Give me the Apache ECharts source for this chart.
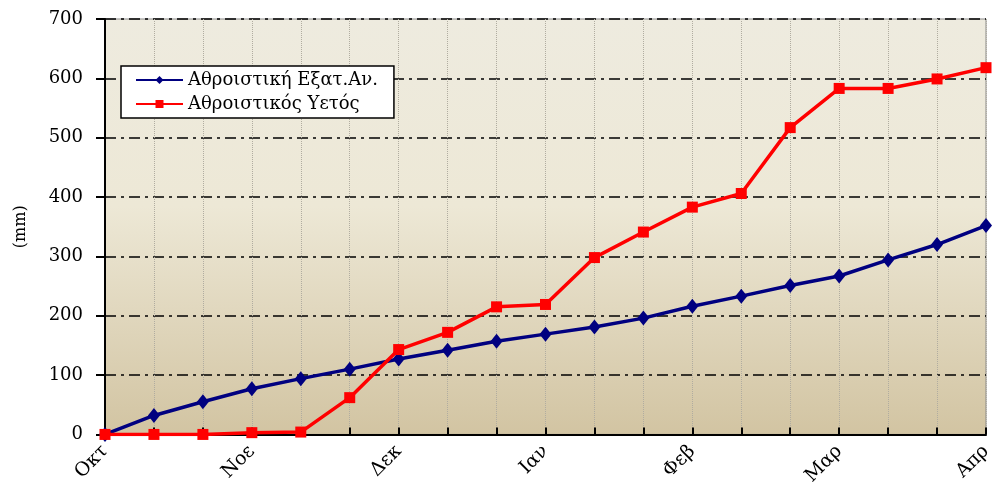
<!DOCTYPE html>
<html>
<head>
<meta charset="utf-8">
<script src="https://cdn.jsdelivr.net/npm/echarts@6/dist/echarts.min.js"></script>
<style>
  html, body { margin: 0; padding: 0; background: #fff; }
  #chart { width: 1002px; height: 488px; }
</style>
</head>
<body>
<div id="chart"></div>
<script>
// ten-day steps, a month label on every third one
const categories = [
  'Οκτ', 'Οκτ β', 'Οκτ γ',
  'Νοε', 'Νοε β', 'Νοε γ',
  'Δεκ', 'Δεκ β', 'Δεκ γ',
  'Ιαν', 'Ιαν β', 'Ιαν γ',
  'Φεβ', 'Φεβ β', 'Φεβ γ',
  'Μαρ', 'Μαρ β', 'Μαρ γ',
  'Απρ'
];
const evapValues = [0, 32, 55, 77, 94, 110, 127, 142, 157, 169, 181, 196, 216, 233, 251, 267, 294, 320, 352];
const rainValues = [0, 0, 0, 3, 4, 62, 143, 172, 215, 219, 298, 341, 383, 406, 517, 583, 583, 599, 618];
const yTicks = [0, 100, 200, 300, 400, 500, 600, 700];

const chart = echarts.init(document.getElementById('chart'));
const font = 'DejaVu Serif';

chart.setOption({
  animation: false,
  textStyle: { fontFamily: font },
  grid: {
    left: 105, right: 16, top: 19, bottom: 53,
    show: true,
    borderColor: '#8a8a8a',
    borderWidth: 1,
    backgroundColor: new echarts.graphic.LinearGradient(0, 0, 0, 1, [
      { offset: 0, color: '#EEEBDF' },
      { offset: 0.45, color: '#EDE8D6' },
      { offset: 1, color: '#D2C4A2' }
    ])
  },
  legend: {
    orient: 'vertical',
    left: 121, top: 66,
    backgroundColor: '#fff',
    borderColor: '#000',
    borderWidth: 1.5,
    borderRadius: 0,
    padding: [5, 16, 5, 14],
    itemGap: 6,
    itemWidth: 47,
    itemHeight: 10,
    textStyle: { fontFamily: font, fontSize: 18, color: '#000' },
    data: ['Αθροιστική Εξατ.Αν.', 'Αθροιστικός Υετός']
  },
  xAxis: {
    type: 'category',
    data: categories,
    boundaryGap: false,
    axisLine: { lineStyle: { color: '#000', width: 2 } },
    axisTick: { inside: true, length: 7, interval: 0, lineStyle: { color: '#000', width: 2 } },
    axisLabel: {
      interval: 2,
      rotate: 45,
      margin: 14,
      fontFamily: font,
      fontSize: 19,
      color: '#000',
      formatter: v => v.split(' ')[0]
    },
    splitLine: { show: true, interval: 0, lineStyle: { color: '#b0aca0', type: 'dotted', width: 1 } }
  },
  yAxis: {
    type: 'value',
    min: yTicks[0],
    max: yTicks[yTicks.length - 1],
    interval: 100,
    name: '(mm)',
    nameLocation: 'middle',
    nameGap: 76,
    nameTextStyle: { fontFamily: font, fontSize: 16, color: '#000' },
    axisLine: { show: true, lineStyle: { color: '#000', width: 2 } },
    axisTick: { show: true, length: 9, lineStyle: { color: '#000', width: 2 } },
    axisLabel: { margin: 22, fontFamily: font, fontSize: 18, color: '#000' },
    splitLine: { show: true, lineStyle: { color: '#000', width: 1.5, type: [11, 5, 3, 5] } }
  },
  series: [
    {
      name: 'Αθροιστική Εξατ.Αν.',
      type: 'line',
      data: evapValues,
      symbol: 'diamond',
      symbolSize: [12, 15],
      lineStyle: { color: '#000080', width: 3.5 },
      itemStyle: { color: '#000080' },
      z: 3
    },
    {
      name: 'Αθροιστικός Υετός',
      type: 'line',
      data: rainValues,
      symbol: 'rect',
      symbolSize: 11,
      lineStyle: { color: '#ff0000', width: 3.5 },
      itemStyle: { color: '#ff0000' },
      z: 4
    }
  ]
});
</script>
</body>
</html>
